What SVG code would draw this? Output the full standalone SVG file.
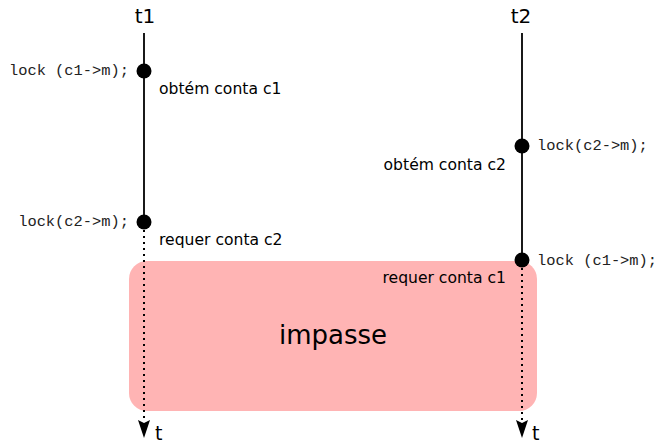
<svg xmlns="http://www.w3.org/2000/svg" width="660" height="443" viewBox="0 0 660 443">
<style>
.sans{font-family:"DejaVu Sans",sans-serif;fill:#000}
.mono{font-family:"Liberation Mono","DejaVu Sans Mono",monospace;fill:#222;font-size:15.4px}
.lbl{font-size:15.6px}
.solid{stroke:#000;stroke-width:1.8;fill:none}
.dot{stroke:#000;stroke-width:2;fill:none;stroke-dasharray:2 4}
.pt{fill:#000}
</style>
<rect id="impasse-box" x="129" y="261" width="408" height="150" rx="18" ry="18" fill="#ffb4b4"/>
<g id="connectors">
<line class="solid" x1="144" y1="33" x2="144" y2="222"/>
<line class="dot" x1="144" y1="230" x2="144" y2="421"/>
<path class="pt" d="M138,420 L144,423 L150,420 L144,438 Z"/>
<line class="solid" x1="522" y1="33" x2="522" y2="260"/>
<line class="dot" x1="522" y1="268" x2="522" y2="421"/>
<path class="pt" d="M516,420 L522,423 L528,420 L522,438 Z"/>
</g>
<g id="t1">
<text class="sans" x="145" y="23" font-size="20" text-anchor="middle">t1</text>
<text class="sans" x="155" y="440" font-size="19">t</text>
</g>
<g id="t2">
<text class="sans" x="521" y="23" font-size="20" text-anchor="middle">t2</text>
<text class="sans" x="532" y="440" font-size="19">t</text>
</g>
<g id="n1">
<circle class="pt" cx="144" cy="71" r="7.5"/>
<text class="mono" x="129" y="75" text-anchor="end">lock (c1-&gt;m);</text>
<text class="sans lbl" x="159" y="94">obtém conta c1</text>
</g>
<g id="n2">
<circle class="pt" cx="144" cy="222" r="7.5"/>
<text class="mono" x="129" y="226" text-anchor="end">lock(c2-&gt;m);</text>
<text class="sans lbl" x="159" y="245">requer conta c2</text>
</g>
<g id="n3">
<circle class="pt" cx="522" cy="146" r="7.5"/>
<text class="mono" x="537" y="150">lock(c2-&gt;m);</text>
<text class="sans lbl" x="506" y="170" text-anchor="end">obtém conta c2</text>
</g>
<g id="n4">
<circle class="pt" cx="522" cy="260" r="7.5"/>
<text class="mono" x="537" y="265">lock (c1-&gt;m);</text>
<text class="sans lbl" x="506" y="283" text-anchor="end">requer conta c1</text>
</g>
<g id="impasse">
<text class="sans" x="333" y="344" font-size="26" text-anchor="middle">impasse</text>
</g>
</svg>
